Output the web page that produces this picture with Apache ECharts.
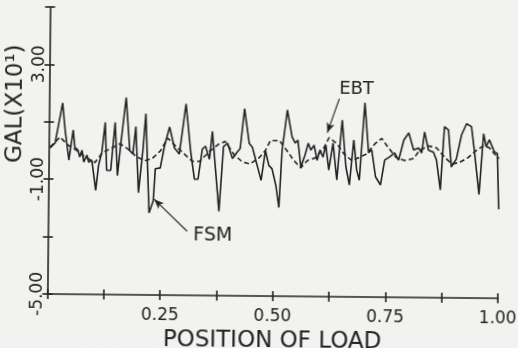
<!DOCTYPE html>
<html>
<head>
<meta charset="utf-8">
<script src="https://cdn.jsdelivr.net/npm/echarts@6/dist/echarts.min.js"></script>
<style>
html,body{margin:0;padding:0;background:#f2f2f0;overflow:hidden;}
#c{width:518px;height:348px;transform:rotate(0.55deg);transform-origin:50% 50%;}
</style>
</head>
<body>
<div id="c"></div>
<script>
// Position of load (0..1) and response (GAL x10^1)
const fsmPos = [
0.003,0.014,0.030,0.036,0.045,0.054,0.058,0.065,0.069,0.074,
0.078,0.085,0.089,0.096,0.105,0.111,0.118,0.125,0.129,0.138,
0.147,0.153,0.160,0.171,0.180,0.187,0.193,0.200,0.209,0.215,
0.224,0.233,0.237,0.248,0.257,0.268,0.279,0.290,0.304,0.315,
0.324,0.332,0.341,0.348,0.357,0.363,0.372,0.379,0.388,0.397,
0.408,0.419,0.425,0.434,0.445,0.452,0.463,0.472,0.481,0.489,
0.496,0.505,0.512,0.518,0.529,0.540,0.547,0.553,0.560,0.569,
0.576,0.582,0.589,0.596,0.602,0.609,0.615,0.622,0.631,0.640,
0.651,0.660,0.668,0.677,0.684,0.690,0.701,0.710,0.717,0.726,
0.737,0.746,0.757,0.768,0.777,0.788,0.799,0.810,0.821,0.828,
0.834,0.843,0.854,0.861,0.870,0.878,0.887,0.894,0.905,0.916,
0.927,0.938,0.945,0.956,0.965,0.971,0.978,0.989,0.996,1.000];
const fsmVal = [
0.09,0.26,1.66,0.72,-0.33,0.72,0.12,0.02,-0.22,0.02,
-0.39,-0.15,-0.39,-0.33,-1.37,-0.50,-0.04,1.00,-0.67,-0.67,
1.00,-0.85,0.27,1.87,0.02,-0.08,0.86,-1.44,0.02,1.31,
-2.14,-1.72,-0.60,-0.57,0.20,0.86,0.13,-0.08,1.67,0.03,
-0.95,-0.95,0.10,0.20,-0.25,0.72,-0.84,-2.06,0.20,0.31,
-0.22,0.02,0.13,1.52,0.31,0.18,-0.45,-0.97,0.07,-0.45,
-0.56,-1.15,-1.91,0.07,1.49,0.55,0.34,0.44,-0.50,-0.08,
0.34,0.10,0.27,-0.25,0.11,-0.14,0.28,-0.59,0.35,-0.93,
1.16,-0.47,-1.10,0.47,-0.58,-0.93,1.77,0.03,0.13,-0.81,
-1.09,-0.22,-0.11,0.03,-0.22,0.48,0.73,0.14,0.21,0.04,
0.77,0.14,0.07,-0.21,-1.24,0.96,0.85,-0.44,-0.16,0.68,
1.07,0.97,0.11,-1.39,0.73,0.28,0.52,0.11,0.04,-1.90];
const ebtPos = [
0.003,0.025,0.043,0.061,0.083,0.103,0.120,0.138,0.158,0.175,
0.193,0.213,0.231,0.248,0.264,0.282,0.302,0.319,0.335,0.357,
0.379,0.392,0.412,0.430,0.447,0.467,0.481,0.492,0.512,0.529,
0.545,0.560,0.574,0.592,0.611,0.622,0.640,0.655,0.673,0.688,
0.706,0.724,0.739,0.754,0.772,0.790,0.810,0.823,0.843,0.861,
0.876,0.894,0.911,0.931,0.949,0.965,0.978,0.989,1.000];
const ebtVal = [
0.12,0.47,0.19,0.02,-0.23,-0.40,-0.05,0.09,0.26,0.09,
-0.16,-0.33,-0.23,0.02,0.47,0.19,-0.09,-0.33,-0.33,0.02,
0.30,0.37,-0.09,-0.33,-0.40,-0.19,0.07,0.42,0.42,0.07,
-0.28,-0.52,-0.27,-0.17,0.19,0.54,0.33,-0.01,-0.25,-0.15,
-0.01,0.34,0.53,0.21,-0.14,-0.23,-0.16,0.12,0.29,0.22,
-0.05,-0.33,-0.29,-0.11,0.14,0.31,0.24,0.04,-0.13];
const xLabelVals = [0.25, 0.5, 0.75, 1.0];
const yLabelVals = [-5, -1, 3];
const xTitle = 'POSITION OF LOAD';
const yTitle = 'GAL(X10¹)';
// annotation anchors (data units)
const fsmNote = {text:'FSM', label:[0.366,-2.91], from:[0.309,-2.77], to:[0.235,-1.66]};
const ebtNote = {text:'EBT', label:[0.682,2.25], from:[0.644,1.90], to:[0.618,0.71]};

const INK = '#232323';
const FONT = 'DejaVu Sans';
const zip = (a,b) => a.map((v,i)=>[v,b[i]]);
const near = (v, arr) => arr.some(a => Math.abs(a - v) < 1e-6);

const chart = echarts.init(document.getElementById('c'), null, {renderer:'canvas'});
const axisLine = {show:true, onZero:false, lineStyle:{color:INK, width:1.6}};
const tickStyle = {color:INK, width:1.6};

chart.setOption({
  animation:false,
  backgroundColor:'#f2f2f0',
  grid:{left:48.5, right:19, top:9, bottom:52, containLabel:false, outerBoundsMode:'none'},
  graphic:[{
    type:'text', x:15, y:106, rotation:Math.PI/2, silent:true,
    style:{text:yTitle, font:'23px "DejaVu Sans"', fill:INK, align:'center', verticalAlign:'middle'}
  }],
  xAxis:[{
    type:'value', min:0, max:1, interval:0.125,
    axisLine:axisLine,
    axisTick:{show:true, length:5, lineStyle:tickStyle},
    splitLine:{show:false},
    axisLabel:{margin:12, fontSize:17, fontFamily:FONT, color:INK,
      formatter:v => near(v, xLabelVals) ? v.toFixed(2) : ''},
    name:xTitle, nameLocation:'middle', nameGap:31,
    nameTextStyle:{fontSize:23, fontFamily:FONT, color:INK}
  },{
    type:'value', min:0, max:1, interval:0.125, position:'bottom',
    axisLine:{show:false, onZero:false},
    axisTick:{show:true, inside:true, length:5, lineStyle:tickStyle},
    axisLabel:{show:false}, splitLine:{show:false}
  }],
  yAxis:[{
    type:'value', min:-5, max:5, interval:2,
    axisLine:axisLine,
    axisTick:{show:true, length:5, lineStyle:tickStyle},
    splitLine:{show:false},
    axisLabel:{rotate:90, margin:1, fontSize:17, fontFamily:FONT, color:INK,
      formatter:v => near(v, yLabelVals) ? v.toFixed(2) : ''}
  },{
    type:'value', min:-5, max:5, interval:2, position:'left',
    axisLine:{show:false, onZero:false},
    axisTick:{show:true, inside:true, length:5, lineStyle:tickStyle},
    axisLabel:{show:false}, splitLine:{show:false}
  }],
  series:[{
    name:'FSM', type:'line', data:zip(fsmPos, fsmVal), showSymbol:false, symbol:'none',
    lineStyle:{color:INK, width:1.6}, z:3,
    markLine:{silent:true, symbol:['none','arrow'], symbolSize:[6,10],
      lineStyle:{color:INK, width:1.1, type:'solid'}, label:{show:false},
      data:[[{coord:fsmNote.from},{coord:fsmNote.to}]]},
    markPoint:{silent:true, symbol:'circle', symbolSize:1, itemStyle:{color:'rgba(0,0,0,0)'},
      label:{show:true, position:'inside', formatter:fsmNote.text, fontSize:19, fontFamily:FONT, color:INK},
      data:[{coord:fsmNote.label}]}
  },{
    name:'EBT', type:'line', data:zip(ebtPos, ebtVal), showSymbol:false, symbol:'none',
    lineStyle:{color:INK, width:1.6, type:[5,3]}, z:2,
    markLine:{silent:true, symbol:['none','arrow'], symbolSize:[6,10],
      lineStyle:{color:INK, width:1.1, type:'solid'}, label:{show:false},
      data:[[{coord:ebtNote.from},{coord:ebtNote.to}]]},
    markPoint:{silent:true, symbol:'circle', symbolSize:1, itemStyle:{color:'rgba(0,0,0,0)'},
      label:{show:true, position:'inside', formatter:ebtNote.text, fontSize:18, fontFamily:FONT, color:INK},
      data:[{coord:ebtNote.label}]}
  }]
});
</script>
</body>
</html>
